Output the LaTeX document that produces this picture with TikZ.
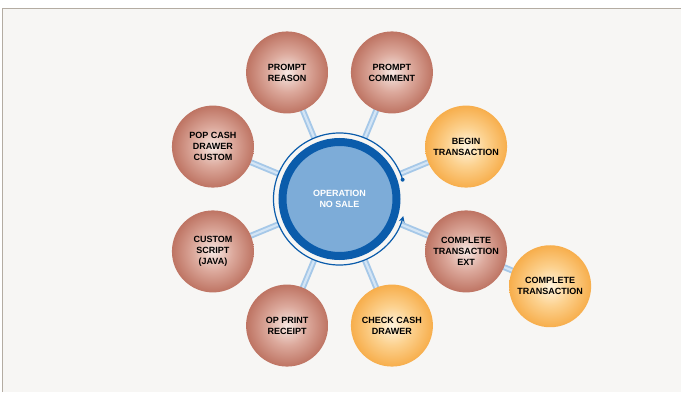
\documentclass[tikz,border=0pt]{standalone}
\usepackage{fontspec}
\setmainfont{Liberation Sans}
\usetikzlibrary{arrows.meta}
\definecolor{bgcol}{HTML}{F7F6F4}
\definecolor{framecol}{HTML}{B4ACA2}
\definecolor{ringblue}{HTML}{0B5CAB}
\definecolor{coreblue}{HTML}{7DACD8}
\definecolor{spokeedge}{HTML}{A6C8E8}
\definecolor{spokemid}{HTML}{D4E5F5}
\definecolor{brin}{HTML}{F6E7E2}
\definecolor{brmid}{HTML}{DCA99C}
\definecolor{brout}{HTML}{BE7463}
\definecolor{orin}{HTML}{FFF4DE}
\definecolor{ormid}{HTML}{FCD18E}
\definecolor{orout}{HTML}{F7AE4C}
\pgfdeclareradialshading{brownball}{\pgfpoint{0bp}{0bp}}{color(0bp)=(brin); color(12bp)=(brmid); color(25bp)=(brout); color(50bp)=(brout)}
\pgfdeclareradialshading{orangeball}{\pgfpoint{0bp}{0bp}}{color(0bp)=(orin); color(12bp)=(ormid); color(25bp)=(orout); color(50bp)=(orout)}
\pgfdeclarelayer{back}
\pgfdeclarelayer{mid}
\pgfsetlayers{back,mid,main}
\tikzset{
  ball/.style={circle, minimum size=82pt, inner sep=0pt, align=center,
    font=\bfseries\fontsize{9}{11}\selectfont, text=black},
  brownb/.style={ball, shading=brownball},
  orangeb/.style={ball, shading=orangeball},
  spokeline/.style={line width=6pt, spokeedge},
  spokeinner/.style={line width=2.2pt, spokemid},
}
\begin{document}
\begin{tikzpicture}[x=1pt,y=1pt]
\useasboundingbox (0,0) rectangle (681,392);
\coordinate (o) at (339.5,193);
\node[circle, minimum size=114pt, inner sep=0pt, fill=coreblue, draw=ringblue, line width=8pt,
  align=center, text=white, font=\bfseries\fontsize{9}{11}\selectfont] (c) at (o) {OPERATION\\NO SALE};
\node[orangeb] (s1) at ([shift={(22.5:137)}]o) {BEGIN\\TRANSACTION};
\node[brownb] (s2) at ([shift={(67.5:137)}]o) {PROMPT\\COMMENT};
\node[brownb] (s3) at ([shift={(112.5:137)}]o) {PROMPT\\REASON};
\node[brownb] (s4) at ([shift={(157.5:137)}]o) {POP CASH\\DRAWER\\CUSTOM};
\node[brownb] (s5) at ([shift={(202.5:137)}]o) {CUSTOM\\SCRIPT\\(JAVA)};
\node[brownb] (s6) at ([shift={(247.5:137)}]o) {OP PRINT\\RECEIPT};
\node[orangeb] (s7) at ([shift={(292.5:137)}]o) {CHECK CASH\\DRAWER};
\node[brownb] (s8) at ([shift={(337.5:137)}]o) {COMPLETE\\TRANSACTION\\EXT};
\node[orangeb] (s9) at ([shift={(337.5:228)}]o) {COMPLETE\\TRANSACTION};
\begin{pgfonlayer}{back}
\fill[bgcol] (2.7,0) rectangle (681,383.5);
\draw[framecol, line width=1.5pt] (2.7,0) -- (2.7,383.5) -- (681,383.5);
\end{pgfonlayer}
\begin{pgfonlayer}{mid}
\foreach \s in {s1,s2,s3,s4,s5,s6,s7,s8}{
  \draw[spokeline] (c.center) -- (\s.center);
  \draw[spokeinner] (c.center) -- (\s.center);
}
\draw[spokeline] (s8.center) -- (s9.center);
\draw[spokeinner] (s8.center) -- (s9.center);
\fill[bgcol] (c.center) circle (66);
\draw[ringblue, line width=1.2pt, -{Stealth[length=6pt,width=6pt]}]
  ([shift={(17:66)}]c.center) arc[start angle=17, end angle=345, radius=66];
\fill[ringblue] ([shift={(17:66)}]c.center) circle (2);
\end{pgfonlayer}
\end{tikzpicture}
\end{document}
